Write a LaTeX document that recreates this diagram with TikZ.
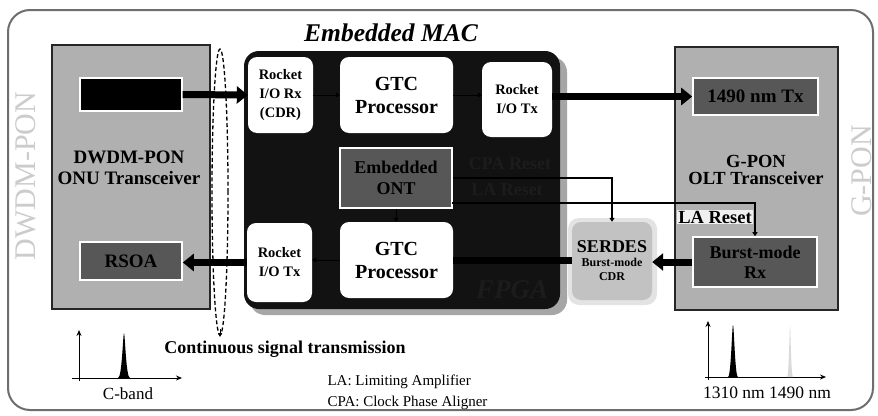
\documentclass[tikz,border=0pt]{standalone}
\usepackage{fontspec}
\setmainfont{Liberation Serif}
\usetikzlibrary{arrows.meta}
\definecolor{boxgray}{HTML}{B0B0B0}
\definecolor{dkgray}{HTML}{575757}
\definecolor{serdesgray}{HTML}{C2C2C2}
\definecolor{framegray}{HTML}{6E6E6E}
\definecolor{fpgashadow}{HTML}{A6A6A6}
\definecolor{faint}{HTML}{1C1C1C}
\newcommand{\fsz}[2]{\fontsize{#1}{#2}\selectfont}
\begin{document}
\begin{tikzpicture}[x=1pt,y=-1pt,
  trans/.style={draw=black!85, line width=2pt, fill=boxgray, inner sep=0pt},
  dkbox/.style={draw=white, line width=1.6pt, fill=dkgray, inner sep=0pt, font=\bfseries\fsz{18}{21}, align=center, text=black},
  whitebox/.style={fill=white, rounded corners=9pt, inner sep=0pt, align=center, font=\bfseries\fsz{14.5}{19}},
  gtcbox/.style={whitebox, font=\bfseries\fsz{20}{23}},
  bigarrow/.style={line width=7pt, -{Triangle[length=11pt,width=17pt]}},
  thinline/.style={line width=1.1pt, black},
  smalltip/.style={-{Triangle[length=4pt,width=5pt]}},
  axis/.style={line width=0.8pt, -{Stealth[length=6pt,width=5pt]}},
  sidetext/.style={rotate=90, text=gray!40, font=\fsz{30}{32}},
]
\useasboundingbox (0,0) rectangle (878,415);
\fill[white] (0,0) rectangle (878,415);
% outer frame
\draw[framegray, line width=2pt, rounded corners=22pt] (8,10) rectangle (873,410);
% side texts
\node[sidetext] (dwdmside) at (26,176) {DWDM-PON};
\node[sidetext] (gponside) at (862,171) {G-PON};

% ONU transceiver
\node[trans, minimum width=158pt, minimum height=264pt] (onu) at (131,177) {};
\node[font=\bfseries\fsz{19}{21}, align=center] (onutxt) at (129,168) {DWDM-PON\\ONU Transceiver};
\node[fill=black, draw=white, line width=1.2pt, minimum width=102pt, minimum height=33pt, inner sep=0pt] (laser) at (131,94.5) {};
\node[dkbox, minimum width=102pt, minimum height=38pt, font=\bfseries\fsz{19}{21}] (rsoa) at (131,261) {RSOA};

% FPGA
\fill[fpgashadow, rounded corners=15pt] (250,57) rectangle (567,315);
\node[fill=black!93, rounded corners=15pt, minimum width=316pt, minimum height=258pt, inner sep=0pt] (fpga) at (402,180) {};
\node[font=\bfseries\itshape\fsz{25.5}{28}] (mac) at (391,33) {Embedded MAC};
\node[font=\bfseries\itshape\fsz{27}{30}, text=faint] (fpgalbl) at (512,290) {FPGA};

\node[whitebox, minimum width=65pt, minimum height=76pt] (rrx) at (280.5,95) {Rocket\\I/O Rx\\(CDR)};
\node[gtcbox, minimum width=113pt, minimum height=76pt] (gtc1) at (396.5,95) {GTC\\Processor};
\node[whitebox, minimum width=70pt, minimum height=75pt] (rtx1) at (517,99.5) {Rocket\\I/O Tx};
\node[dkbox, minimum width=112pt, minimum height=60pt, font=\bfseries\fsz{18}{21}] (ont) at (396,178) {Embedded\\ONT};
\node[whitebox, minimum width=65pt, minimum height=79pt] (rtx2) at (279.5,262.5) {Rocket\\I/O Tx};
\node[gtcbox, minimum width=113pt, minimum height=76pt] (gtc2) at (396.5,260) {GTC\\Processor};
\node[font=\bfseries\fsz{18}{20}, text=faint] (cpalbl) at (510,164) {CPA Reset};
\node[font=\bfseries\fsz{18}{20}, text=faint] (lalbl) at (507,190) {LA Reset};

% SERDES
\fill[gray!22, rounded corners=11pt] (568,218) rectangle (657,305);
\node[fill=serdesgray, rounded corners=9pt, minimum width=80pt, minimum height=78pt, inner sep=0pt, align=center, font=\bfseries\fsz{12}{14}] (serdes) at (612,261) {{\fsz{18}{18}SERDES}\\Burst-mode\\CDR};

% OLT transceiver
\node[trans, minimum width=163pt, minimum height=263pt] (olt) at (756.5,178.5) {};
\node[dkbox, minimum width=125pt, minimum height=37pt, font=\bfseries\fsz{19}{21}] (tx1490) at (755.5,96.5) {1490 nm Tx};
\node[font=\bfseries\fsz{18.5}{17}, align=center] (olttxt) at (756,170) {G-PON\\OLT Transceiver};
\node[dkbox, minimum width=124pt, minimum height=50pt, font=\bfseries\fsz{18}{20}] (bmrx) at (755,262) {Burst-mode\\Rx};
\node[font=\bfseries\fsz{18.5}{20}, fill=gray!12, inner sep=1pt] (lareset) at (715,217) {LA Reset};

% thick data paths
\draw[bigarrow] (laser.east) -- (rrx.west);
\draw[bigarrow] (rtx1.east |- tx1490.west) -- (tx1490.west);
\draw[bigarrow] (rtx2.west) -- (rtx2.west -| rsoa.east);
\draw[line width=7pt] (gtc2.east) -- (gtc2.east -| serdes.west);
\draw[bigarrow] (bmrx.west) -- (bmrx.west -| serdes.east);

% internal links
\draw[smalltip] (rrx.east) -- (gtc1.west);
\draw[smalltip] (gtc1.east) -- (gtc1.east -| rtx1.west);
\draw[smalltip] (ont.south) -- (ont.south |- gtc2.north);
\draw[smalltip] (gtc2.west) -- (gtc2.west -| rtx2.east);

% reset lines
\coordinate (la0) at (452,203);
\draw[thinline, smalltip] (ont.east) -| (serdes.north);
\draw[thinline, smalltip] (la0) -| (bmrx.north);

% continuous signal ellipse
\draw[line width=1.3pt, dash pattern=on 4pt off 2.5pt] (220,192) ellipse [x radius=8pt, y radius=143pt];
\coordinate (ellA) at (220,329);
\coordinate (ellB) at (220,337);
\draw[-{Triangle[length=4pt,width=4pt]}, line width=1pt] (ellA) -- (ellB);
\node[font=\bfseries\fsz{18}{20}] (cont) at (285,349) {Continuous signal transmission};

% legend
\node[font=\fsz{15}{17}, anchor=west] (lalegend) at (324,382) {LA: Limiting Amplifier};
\node[font=\fsz{15}{17}, anchor=west] (cpalegend) at (324,403) {CPA: Clock Phase Aligner};

% left spectrum
\coordinate (lx0) at (72,378); \coordinate (lx1) at (182,378);
\coordinate (ly0) at (79,381); \coordinate (ly1) at (79,330);
\draw[axis] (lx0) -- (lx1);
\draw[axis] (ly0) -- (ly1);
\fill (118,378) .. controls (122,378) and (123,333) .. (124,333) .. controls (125,333) and (126,378) .. (130,378) -- cycle;
\node[font=\fsz{17}{19}] (cband) at (128,394) {C-band};

% right spectrum
\coordinate (rx0) at (705,377); \coordinate (rx1) at (826,377);
\coordinate (ry0) at (708,380); \coordinate (ry1) at (708,321);
\draw[axis] (rx0) -- (rx1);
\draw[axis] (ry0) -- (ry1);
\fill (728,377) .. controls (731,377) and (732,325) .. (733,325) .. controls (734,325) and (735,377) .. (738,377) -- cycle;
\fill[gray!30] (787,377) .. controls (789,377) and (789.5,326) .. (790,326) .. controls (790.5,326) and (791,377) .. (793,377) -- cycle;
\node[font=\fsz{17.5}{19}] (nm) at (767,393) {1310 nm 1490 nm};
\end{tikzpicture}
\end{document}
